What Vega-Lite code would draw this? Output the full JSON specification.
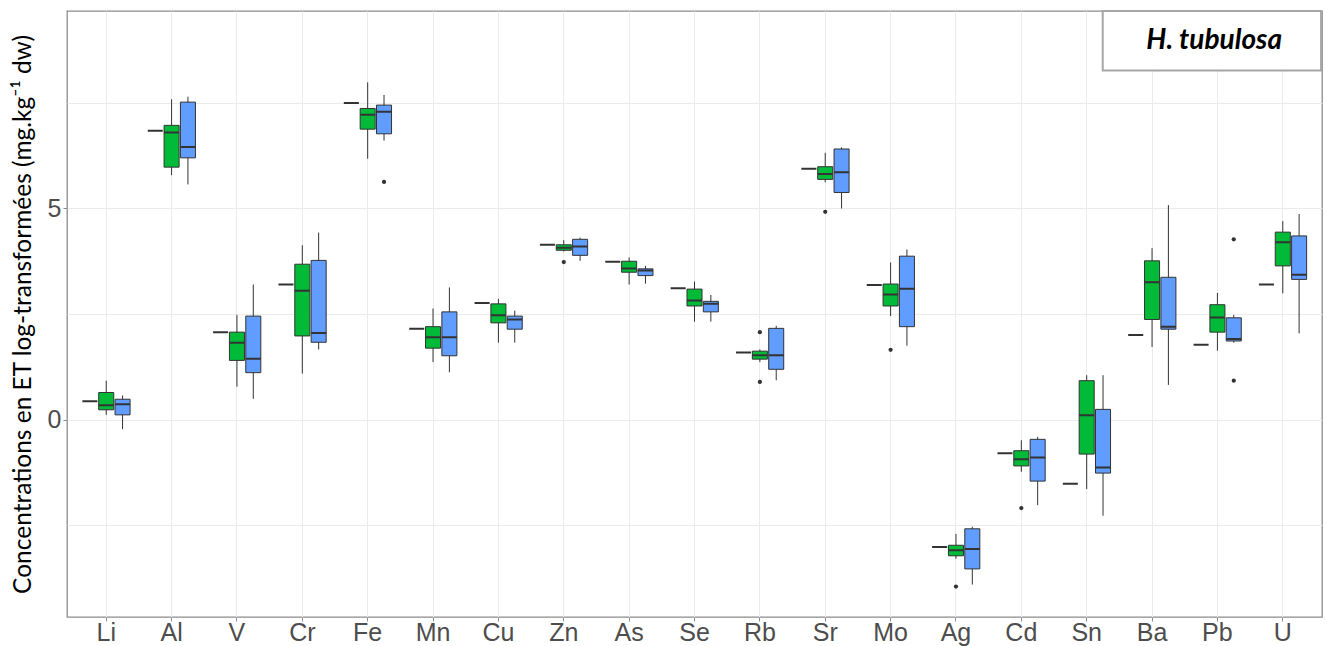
{
  "$schema": "https://vega.github.io/schema/vega-lite/v6.json",
  "width": 1255,
  "height": 606,
  "autosize": {"type": "none"},
  "padding": {"left": 67, "top": 11, "right": 3, "bottom": 29},
  "background": "white",
  "config": {"view": {"stroke": "#8C8C8C", "strokeWidth": 1.3}},
  "datasets": {
    "boxes": [
      {"el": "Li", "grp": "ref", "med": 0.43},
      {"el": "Li", "grp": "g1", "lo": 0.11, "q1": 0.23, "med": 0.34, "q3": 0.64, "hi": 0.92},
      {"el": "Li", "grp": "g2", "lo": -0.23, "q1": 0.11, "med": 0.36, "q3": 0.48, "hi": 0.57},
      {"el": "Al", "grp": "ref", "med": 6.84},
      {"el": "Al", "grp": "g1", "lo": 5.79, "q1": 5.98, "med": 6.80, "q3": 6.97, "hi": 7.59},
      {"el": "Al", "grp": "g2", "lo": 5.57, "q1": 6.20, "med": 6.46, "q3": 7.52, "hi": 7.65},
      {"el": "V", "grp": "ref", "med": 2.07},
      {"el": "V", "grp": "g1", "lo": 0.78, "q1": 1.40, "med": 1.82, "q3": 2.07, "hi": 2.48},
      {"el": "V", "grp": "g2", "lo": 0.49, "q1": 1.11, "med": 1.44, "q3": 2.45, "hi": 3.20},
      {"el": "Cr", "grp": "ref", "med": 3.20},
      {"el": "Cr", "grp": "g1", "lo": 1.09, "q1": 1.98, "med": 3.05, "q3": 3.68, "hi": 4.13},
      {"el": "Cr", "grp": "g2", "lo": 1.66, "q1": 1.83, "med": 2.05, "q3": 3.77, "hi": 4.43},
      {"el": "Fe", "grp": "ref", "med": 7.50},
      {"el": "Fe", "grp": "g1", "lo": 6.18, "q1": 6.88, "med": 7.22, "q3": 7.37, "hi": 7.99},
      {"el": "Fe", "grp": "g2", "lo": 6.61, "q1": 6.77, "med": 7.29, "q3": 7.45, "hi": 7.69},
      {"el": "Mn", "grp": "ref", "med": 2.15},
      {"el": "Mn", "grp": "g1", "lo": 1.36, "q1": 1.69, "med": 1.95, "q3": 2.20, "hi": 2.63},
      {"el": "Mn", "grp": "g2", "lo": 1.12, "q1": 1.51, "med": 1.95, "q3": 2.55, "hi": 3.13},
      {"el": "Cu", "grp": "ref", "med": 2.76},
      {"el": "Cu", "grp": "g1", "lo": 1.82, "q1": 2.29, "med": 2.47, "q3": 2.74, "hi": 2.86},
      {"el": "Cu", "grp": "g2", "lo": 1.82, "q1": 2.14, "med": 2.37, "q3": 2.45, "hi": 2.58},
      {"el": "Zn", "grp": "ref", "med": 4.14},
      {"el": "Zn", "grp": "g1", "lo": 3.98, "q1": 4.01, "med": 4.07, "q3": 4.14, "hi": 4.25},
      {"el": "Zn", "grp": "g2", "lo": 3.76, "q1": 3.89, "med": 4.10, "q3": 4.27, "hi": 4.31},
      {"el": "As", "grp": "ref", "med": 3.74},
      {"el": "As", "grp": "g1", "lo": 3.20, "q1": 3.49, "med": 3.58, "q3": 3.75, "hi": 3.84},
      {"el": "As", "grp": "g2", "lo": 3.22, "q1": 3.41, "med": 3.53, "q3": 3.57, "hi": 3.64},
      {"el": "Se", "grp": "ref", "med": 3.11},
      {"el": "Se", "grp": "g1", "lo": 2.32, "q1": 2.69, "med": 2.82, "q3": 3.09, "hi": 3.27},
      {"el": "Se", "grp": "g2", "lo": 2.32, "q1": 2.55, "med": 2.74, "q3": 2.80, "hi": 2.95},
      {"el": "Rb", "grp": "ref", "med": 1.59},
      {"el": "Rb", "grp": "g1", "lo": 1.36, "q1": 1.43, "med": 1.52, "q3": 1.62, "hi": 1.66},
      {"el": "Rb", "grp": "g2", "lo": 0.93, "q1": 1.19, "med": 1.52, "q3": 2.16, "hi": 2.22},
      {"el": "Sr", "grp": "ref", "med": 5.94},
      {"el": "Sr", "grp": "g1", "lo": 5.62, "q1": 5.69, "med": 5.82, "q3": 5.99, "hi": 6.32},
      {"el": "Sr", "grp": "g2", "lo": 5.00, "q1": 5.38, "med": 5.86, "q3": 6.41, "hi": 6.45},
      {"el": "Mo", "grp": "ref", "med": 3.19},
      {"el": "Mo", "grp": "g1", "lo": 2.45, "q1": 2.69, "med": 2.96, "q3": 3.21, "hi": 3.72},
      {"el": "Mo", "grp": "g2", "lo": 1.75, "q1": 2.20, "med": 3.10, "q3": 3.87, "hi": 4.03},
      {"el": "Ag", "grp": "ref", "med": -3.02},
      {"el": "Ag", "grp": "g1", "lo": -3.30, "q1": -3.23, "med": -3.10, "q3": -2.98, "hi": -2.71},
      {"el": "Ag", "grp": "g2", "lo": -3.91, "q1": -3.54, "med": -3.07, "q3": -2.59, "hi": -2.54},
      {"el": "Cd", "grp": "ref", "med": -0.80},
      {"el": "Cd", "grp": "g1", "lo": -1.24, "q1": -1.10, "med": -0.94, "q3": -0.74, "hi": -0.49},
      {"el": "Cd", "grp": "g2", "lo": -2.03, "q1": -1.46, "med": -0.90, "q3": -0.47, "hi": -0.41},
      {"el": "Sn", "grp": "ref", "med": -1.52},
      {"el": "Sn", "grp": "g1", "lo": -1.65, "q1": -0.82, "med": 0.10, "q3": 0.92, "hi": 1.05},
      {"el": "Sn", "grp": "g2", "lo": -2.28, "q1": -1.27, "med": -1.14, "q3": 0.24, "hi": 1.05},
      {"el": "Ba", "grp": "ref", "med": 2.00},
      {"el": "Ba", "grp": "g1", "lo": 1.72, "q1": 2.37, "med": 3.25, "q3": 3.76, "hi": 4.06},
      {"el": "Ba", "grp": "g2", "lo": 0.82, "q1": 2.14, "med": 2.20, "q3": 3.37, "hi": 5.08},
      {"el": "Pb", "grp": "ref", "med": 1.77},
      {"el": "Pb", "grp": "g1", "lo": 1.63, "q1": 2.07, "med": 2.42, "q3": 2.72, "hi": 3.00},
      {"el": "Pb", "grp": "g2", "lo": 1.82, "q1": 1.86, "med": 1.91, "q3": 2.41, "hi": 2.48},
      {"el": "U", "grp": "ref", "med": 3.20},
      {"el": "U", "grp": "g1", "lo": 2.99, "q1": 3.64, "med": 4.20, "q3": 4.44, "hi": 4.70},
      {"el": "U", "grp": "g2", "lo": 2.04, "q1": 3.32, "med": 3.43, "q3": 4.35, "hi": 4.87}
    ],
    "outliers": [
      {"el": "Fe", "grp": "g2", "v": 5.63},
      {"el": "Zn", "grp": "g1", "v": 3.73},
      {"el": "Rb", "grp": "g1", "v": 2.07},
      {"el": "Rb", "grp": "g1", "v": 0.89},
      {"el": "Sr", "grp": "g1", "v": 4.92},
      {"el": "Mo", "grp": "g1", "v": 1.65},
      {"el": "Ag", "grp": "g1", "v": -3.96},
      {"el": "Cd", "grp": "g1", "v": -2.10},
      {"el": "Pb", "grp": "g2", "v": 4.27},
      {"el": "Pb", "grp": "g2", "v": 0.92}
    ],
    "annotation": [
      {"label": "H. tubulosa"}
    ]
  },
  "layer": [
    {
      "layer": [
        {
          "data": {"name": "boxes"},
          "mark": {"type": "rule", "color": "#333333", "strokeWidth": 1},
          "encoding": {
            "x": {
              "field": "el", "type": "nominal", "title": null,
              "scale": {"type": "band", "domain": ["Li","Al","V","Cr","Fe","Mn","Cu","Zn","As","Se","Rb","Sr","Mo","Ag","Cd","Sn","Ba","Pb","U"], "paddingInner": 0.25, "paddingOuter": 0.225},
              "axis": {"grid": true, "gridColor": "#EBEBEB", "gridWidth": 1, "bandPosition": 0.5, "domain": false, "ticks": true, "tickColor": "#8C8C8C", "tickSize": 4, "tickWidth": 1, "labelAngle": 0, "labelFont": "Liberation Sans", "labelFontSize": 25, "labelColor": "#4D4D4D", "labelPadding": -1}
            },
            "xOffset": {"field": "grp", "type": "nominal", "scale": {"type": "band", "domain": ["ref","g1","g2"], "paddingInner": 0.08, "paddingOuter": 0.04}},
            "y": {
              "field": "lo", "type": "quantitative",
              "scale": {"domain": [-4.68, 9.68], "nice": false, "zero": false},
              "axis": {
                "values": [-2.5, 0, 2.5, 5, 7.5],
                "labelExpr": "datum.value % 5 === 0 ? format(datum.value, 'd') : ''",
                "grid": true, "gridColor": "#EBEBEB", "gridWidth": 1,
                "domain": false,
                "tickSize": 4, "tickWidth": 1,
                "tickColor": {"condition": {"test": "datum.value % 5 === 0", "value": "#8C8C8C"}, "value": "transparent"},
                "labelFont": "Liberation Sans", "labelFontSize": 25, "labelColor": "#4D4D4D", "labelPadding": 2,
                "title": "Concentrations en ET log-transformées (mg.kg⁻¹ dw)",
                "titleFont": "Lato", "titleFontSize": 24.5, "titleFontWeight": "normal", "titleColor": "#000000", "titlePadding": 12
              }
            },
            "y2": {"field": "hi"}
          }
        },
        {
          "data": {"name": "boxes"},
          "mark": {"type": "bar", "stroke": "#333333", "strokeWidth": 1},
          "encoding": {
            "x": {"field": "el", "type": "nominal"},
            "xOffset": {"field": "grp", "type": "nominal"},
            "y": {"field": "q1", "type": "quantitative"},
            "y2": {"field": "q3"},
            "fill": {"field": "grp", "type": "nominal", "scale": {"domain": ["ref","g1","g2"], "range": ["#F8766D","#00BA38","#619CFF"]}, "legend": null}
          }
        },
        {
          "data": {"name": "boxes"},
          "mark": {"type": "bar", "fillOpacity": 0, "stroke": "#333333", "strokeWidth": 2},
          "encoding": {
            "x": {"field": "el", "type": "nominal"},
            "xOffset": {"field": "grp", "type": "nominal"},
            "y": {"field": "med", "type": "quantitative"},
            "y2": {"field": "med"}
          }
        },
        {
          "data": {"name": "outliers"},
          "mark": {"type": "circle", "color": "#333333", "opacity": 1, "size": 18},
          "encoding": {
            "x": {"field": "el", "type": "nominal"},
            "xOffset": {"field": "grp", "type": "nominal"},
            "y": {"field": "v", "type": "quantitative"}
          }
        }
      ]
    },
    {
      "data": {"name": "annotation"},
      "layer": [
        {
          "mark": {"type": "rect", "fill": "white", "stroke": "#A6A6A6", "strokeWidth": 2},
          "encoding": {
            "x": {"datum": 16.245, "type": "quantitative", "scale": {"domain": [0.4, 19.6], "nice": false, "zero": false}, "axis": null},
            "x2": {"datum": 19.586},
            "y": {"datum": 9.68, "type": "quantitative"},
            "y2": {"datum": 8.27}
          }
        },
        {
          "mark": {"type": "text", "font": "Lato", "fontStyle": "italic", "fontWeight": "bold", "fontSize": 28, "color": "#000000", "align": "center", "baseline": "alphabetic"},
          "encoding": {
            "text": {"field": "label", "type": "nominal"},
            "x": {"datum": 17.95, "type": "quantitative"},
            "y": {"datum": 8.77, "type": "quantitative"}
          }
        }
      ]
    }
  ],
  "resolve": {"scale": {"x": "independent"}, "axis": {"x": "independent"}}
}
